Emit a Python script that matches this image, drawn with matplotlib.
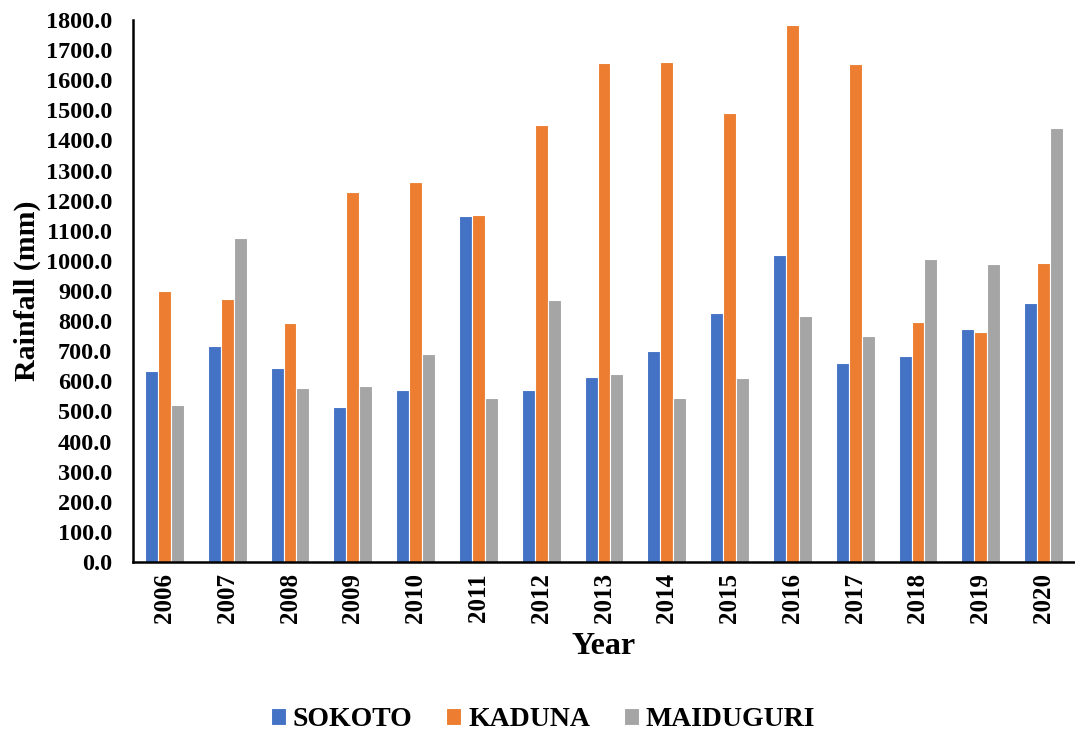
import numpy as np
import matplotlib.pyplot as plt

years = ['2006', '2007', '2008', '2009', '2010', '2011', '2012', '2013',
         '2014', '2015', '2016', '2017', '2018', '2019', '2020']
sokoto = [635, 717, 644, 515, 570, 1148, 571, 614, 701, 826, 1019, 660, 685, 774, 860]
kaduna = [900, 873, 795, 1228, 1263, 1153, 1450, 1656, 1660, 1492, 1783, 1655, 797, 763, 994]
maiduguri = [520, 1075, 578, 583, 690, 544, 870, 624, 545, 611, 817, 751, 1006, 991, 1440]

plt.rcParams['font.family'] = ['Liberation Serif', 'DejaVu Serif']
plt.rcParams['font.weight'] = 'bold'

fig = plt.figure(figsize=(10.75, 7.36), dpi=100)
ax = fig.add_axes([133/1075, 1 - 562/736, (1075 - 133)/1075, (562 - 20)/736])

x = np.arange(len(years))
w = 0.207
ax.bar(x - w, sokoto, w, color='#4472C4', edgecolor='white', linewidth=0.8, label='SOKOTO')
ax.bar(x, kaduna, w, color='#ED7D31', edgecolor='white', linewidth=0.8, label='KADUNA')
ax.bar(x + w, maiduguri, w, color='#A5A5A5', edgecolor='white', linewidth=0.8, label='MAIDUGURI')

ax.set_xlim(-0.5, len(years) - 0.5)
ax.set_ylim(0, 1800)
ax.set_yticks(np.arange(0, 1801, 100))
ax.set_yticklabels([f'{v:.1f}' for v in np.arange(0, 1801, 100)], fontsize=17.5, fontweight='bold')
ax.set_xticks(x)
ax.set_xticklabels(years, rotation=90, fontsize=18, fontweight='bold')
ax.tick_params(length=0)
ax.tick_params(axis='y', pad=15)
ax.tick_params(axis='x', pad=8)

for s in ['top', 'right']:
    ax.spines[s].set_visible(False)
for s in ['left', 'bottom']:
    ax.spines[s].set_linewidth(1.8)
    ax.spines[s].set_color('black')

ax.set_ylabel('Rainfall (mm)', fontsize=21.5, fontweight='bold', labelpad=3)
ax.set_xlabel('Year', fontsize=23, fontweight='bold', labelpad=6)

fig.legend(loc='center', bbox_to_anchor=(543/1075, 1 - 720/736), ncol=3, frameon=False,
           prop={'size': 20, 'weight': 'bold'}, handlelength=0.55, handleheight=0.55,
           handletextpad=0.25, columnspacing=1.2)

fig.savefig('out.png', dpi=100)
